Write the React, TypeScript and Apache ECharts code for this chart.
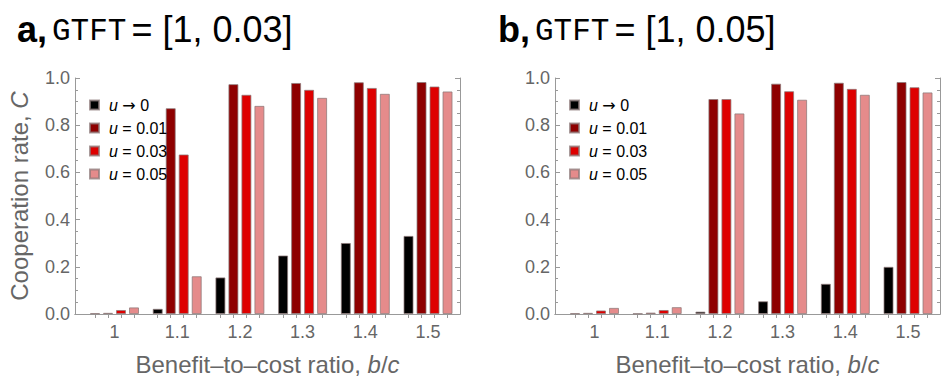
import React, { useEffect, useRef } from "react";
import * as echarts from "echarts";

// Benefit-to-cost ratios on the horizontal axis
const categories = ["1", "1.1", "1.2", "1.3", "1.4", "1.5"];
const ratios = categories.map(Number);

// Series names (mutation rates)
const seriesNames = ["u → 0", "u = 0.01", "u = 0.03", "u = 0.05"];
const seriesColors = ["#000000", "#8e0000", "#de0000", "#e58b8b"];

// Panel a: GTFT = [1, 0.03]
const panelA_u0 = [0.003, 0.022, 0.155, 0.248, 0.301, 0.331];
const panelA_u001 = [0.005, 0.872, 0.974, 0.979, 0.982, 0.983];
const panelA_u003 = [0.017, 0.676, 0.929, 0.950, 0.958, 0.964];
const panelA_u005 = [0.028, 0.160, 0.882, 0.916, 0.933, 0.943];

// Panel b: GTFT = [1, 0.05]
const panelB_u0 = [0.003, 0.002, 0.010, 0.054, 0.128, 0.200];
const panelB_u001 = [0.005, 0.006, 0.911, 0.976, 0.980, 0.983];
const panelB_u003 = [0.015, 0.017, 0.911, 0.944, 0.954, 0.961];
const panelB_u005 = [0.026, 0.029, 0.850, 0.908, 0.929, 0.939];

const yTicks = [0, 0.2, 0.4, 0.6, 0.8, 1.0];

// horizontal plot range (b/c units)
const X_MIN = 0.937;
const X_MAX = 1.551;

const GRAY = "#999999";
const TEXT = "#666666";
const FONT = "Liberation Sans";
const MONO = "Liberation Mono";

const BAR_W = 10;
const BAR_GAP = 3;
const GRID_W = 385;

// positions (in b/c units) of each bar centre, for the top frame ticks
function barCentres(): number[] {
  const pxPerUnit = GRID_W / (X_MAX - X_MIN);
  const out: number[] = [];
  const n = seriesNames.length;
  const span = n * BAR_W + (n - 1) * BAR_GAP;
  ratios.forEach((r) => {
    for (let k = 0; k < n; k++) {
      const off = -span / 2 + BAR_W / 2 + k * (BAR_W + BAR_GAP);
      out.push(r + off / pxPerUnit);
    }
  });
  return out;
}

export default function App() {
  const ref = useRef<HTMLDivElement>(null);

  useEffect(() => {
    if (!ref.current) return;
    const chart = echarts.init(ref.current, undefined, { renderer: "svg" });

    const grids = [
      { left: 75, top: 78, width: GRID_W, height: 238 },
      { left: 555, top: 78, width: GRID_W, height: 238 },
    ];
    const panels = [
      [panelA_u0, panelA_u001, panelA_u003, panelA_u005],
      [panelB_u0, panelB_u001, panelB_u003, panelB_u005],
    ];
    const centres = barCentres();

    const xAxes: any[] = [];
    const yAxes: any[] = [];
    grids.forEach((_, g) => {
      xAxes.push({
        type: "value",
        gridIndex: g,
        min: X_MIN,
        max: X_MAX,
        position: "bottom",
        axisLine: { show: true, lineStyle: { color: GRAY } },
        axisTick: { show: false },
        splitLine: { show: false },
        axisLabel: {
          color: TEXT,
          fontSize: 18,
          fontFamily: FONT,
          margin: 9,
          customValues: ratios,
          formatter: (v: number) => {
            const i = ratios.findIndex((r) => Math.abs(r - v) < 1e-6);
            return i >= 0 ? categories[i] : "";
          },
        },
        name: "Benefit–to–cost ratio, {i|b}/{i|c}",
        nameLocation: "middle",
        nameGap: 38,
        nameTextStyle: {
          color: TEXT,
          fontSize: 24,
          fontFamily: FONT,
          verticalAlign: "top",
          rich: { i: { fontStyle: "italic", color: TEXT, fontSize: 24, fontFamily: FONT } },
        },
      });
      xAxes.push({
        type: "value",
        gridIndex: g,
        position: "top",
        min: X_MIN,
        max: X_MAX,
        axisLine: { show: true, lineStyle: { color: GRAY } },
        axisTick: {
          show: true,
          inside: true,
          length: 4,
          lineStyle: { color: GRAY },
          customValues: centres,
        },
        axisLabel: { show: false },
        splitLine: { show: false },
      });
      yAxes.push({
        type: "value",
        gridIndex: g,
        min: 0,
        max: 1,
        interval: 0.2,
        position: "left",
        axisLine: { show: true, lineStyle: { color: GRAY } },
        axisTick: { show: true, inside: true, length: 5, lineStyle: { color: GRAY } },
        minorTick: { show: true, splitNumber: 4, length: 3, lineStyle: { color: GRAY } },
        axisLabel: {
          color: TEXT,
          fontSize: 18,
          fontFamily: FONT,
          margin: 5,
          formatter: (v: number) => (yTicks.some((t) => Math.abs(t - v) < 1e-9) ? v.toFixed(1) : ""),
        },
        splitLine: { show: false },
        name: g === 0 ? "Cooperation rate, {i|C}" : "",
        nameLocation: "middle",
        nameRotate: 90,
        nameGap: 44,
        nameTextStyle: {
          color: TEXT,
          fontSize: 24,
          fontFamily: FONT,
          rich: { i: { fontStyle: "italic", color: TEXT, fontSize: 24, fontFamily: FONT } },
        },
      });
      yAxes.push({
        type: "value",
        gridIndex: g,
        min: 0,
        max: 1,
        interval: 0.2,
        position: "right",
        axisLine: { show: true, lineStyle: { color: GRAY } },
        axisTick: { show: true, inside: true, length: 5, lineStyle: { color: GRAY } },
        minorTick: { show: true, splitNumber: 4, length: 3, lineStyle: { color: GRAY } },
        axisLabel: { show: false },
        splitLine: { show: false },
      });
    });

    const series: any[] = [];
    panels.forEach((vals, g) => {
      vals.forEach((data, k) => {
        series.push({
          type: "bar",
          name: seriesNames[k],
          xAxisIndex: g * 2,
          yAxisIndex: g * 2,
          data: data.map((v, i) => [ratios[i], v]),
          barWidth: BAR_W,
          barGap: `${(BAR_GAP / BAR_W) * 100}%`,
          itemStyle: {
            color: seriesColors[k],
            borderColor: "rgba(140,120,120,0.75)",
            borderWidth: 1,
          },
        });
      });
    });

    const legendRich = {
      i: { fontStyle: "italic", fontSize: 16, fontFamily: FONT, color: "#000" },
      a: { fontSize: 16, fontFamily: "DejaVu Sans", color: "#000" },
    };
    const legendCommon = {
      orient: "vertical",
      top: 91,
      itemWidth: 9,
      itemHeight: 9,
      itemGap: 5,
      icon: "rect",
      selectedMode: false,
      data: seriesNames,
      formatter: (name: string) => {
        const rest = name.slice(1);
        if (rest.includes("→")) return `{i|u} {a|→} 0`;
        return `{i|u}${rest}`;
      },
      textStyle: {
        color: "#000",
        fontSize: 16,
        fontFamily: FONT,
        lineHeight: 18,
        padding: [0, 0, 0, 5],
        rich: legendRich,
      },
    };

    const titleRich = {
      b: { fontWeight: "bold", fontSize: 36, fontFamily: FONT, color: "#000", lineHeight: 42, verticalAlign: "bottom" },
      m: { fontWeight: "normal", fontSize: 31, fontFamily: MONO, color: "#000", lineHeight: 36, verticalAlign: "bottom" },
      n: { fontWeight: "normal", fontSize: 36, fontFamily: FONT, color: "#000", lineHeight: 42, verticalAlign: "bottom" },
    };

    chart.setOption({
      animation: false,
      backgroundColor: "#ffffff",
      title: [
        {
          left: 12,
          top: 0,
          text: "{b|a,} {m|GTFT} {n|= [1, 0.03]}",
          textStyle: { fontWeight: "normal", rich: titleRich },
        },
        {
          left: 493,
          top: 0,
          text: "{b|b,} {m|GTFT} {n|= [1, 0.05]}",
          textStyle: { fontWeight: "normal", rich: titleRich },
        },
      ],
      legend: [
        { ...legendCommon, left: 84 },
        { ...legendCommon, left: 564 },
      ],
      grid: grids,
      xAxis: xAxes,
      yAxis: yAxes,
      series,
    });

    return () => chart.dispose();
  }, []);

  return (
    <div
      ref={ref}
      style={{ position: "fixed", left: 0, top: 0, width: 941, height: 381 }}
    />
  );
}
